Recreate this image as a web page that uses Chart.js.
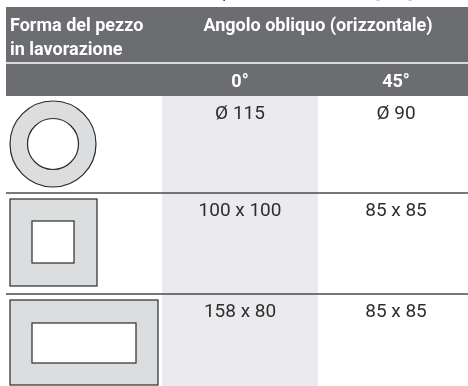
<!DOCTYPE html>
<html>
<head>
<meta charset="utf-8">
<script src="https://cdn.jsdelivr.net/npm/chart.js@4/dist/chart.umd.min.js"></script>
<style>
  html, body { margin: 0; padding: 0; background: #fff; }
</style>
</head>
<body>
<canvas id="table" width="468" height="386"></canvas>
<script>
// table content
const caption = "Dimensioni massime del pezzo in lavorazione [mm]";
const headShape = ["Forma del pezzo", "in lavorazione"];
const headAngle = "Angolo obliquo (orizzontale)";
const angles = ["0°", "45°"];
const shapes = ["circle", "square", "rect"];
const size0 = ["Ø 115", "100 x 100", "158 x 80"];
const size45 = ["Ø 90", "85 x 85", "85 x 85"];

const DARK = "#6c6d71";
const SHADE = "#ebebed";
const FILL = "#dcdddf";
const LINE = "#4b4b4d";
const TEXT = "#2e2e30";
const headFont = "bold 18px 'Roboto', sans-serif";
const cellFont = "19px 'Roboto', sans-serif";

// table layout in scale units
const colEdges = [6, 162, 318, 468];
const rowEdges = [96, 193, 294, 386];

const tablePlugin = {
  id: "tablePlugin",
  afterDraw(chart) {
    const ctx = chart.ctx;
    const X = v => chart.scales.x.getPixelForValue(v);
    const Y = v => chart.scales.y.getPixelForValue(v);
    const rect = (x0, y0, x1, y1) => [X(x0), Y(y0), X(x1) - X(x0), Y(y1) - Y(y0)];
    ctx.save();

    // caption, mostly cut off at the top
    ctx.fillStyle = TEXT;
    ctx.font = "16.5px 'Roboto', sans-serif";
    ctx.textAlign = "left";
    ctx.textBaseline = "alphabetic";
    ctx.fillText(caption, X(38), Y(-2));

    // header band
    ctx.fillStyle = DARK;
    ctx.fillRect(...rect(colEdges[0], 7, colEdges[3], rowEdges[0]));
    ctx.strokeStyle = "#ffffff";
    ctx.lineWidth = 1.5;
    ctx.beginPath();
    ctx.moveTo(X(colEdges[0]), Y(63));
    ctx.lineTo(X(colEdges[3]), Y(63));
    ctx.stroke();

    ctx.fillStyle = "#ffffff";
    ctx.font = headFont;
    ctx.textAlign = "left";
    ctx.fillText(headShape[0], X(10), Y(31));
    ctx.fillText(headShape[1], X(10), Y(55));
    ctx.textAlign = "center";
    ctx.fillText(headAngle, X((colEdges[1] + colEdges[3]) / 2 + 3), Y(31));
    angles.forEach((a, i) => {
      ctx.fillText(a, X((colEdges[i + 1] + colEdges[i + 2]) / 2 + i * 3), Y(87));
    });

    // shaded 0° column
    ctx.fillStyle = SHADE;
    ctx.fillRect(...rect(colEdges[1], rowEdges[0], colEdges[2], rowEdges[3]));

    // row separators
    ctx.strokeStyle = LINE;
    ctx.lineWidth = 1.6;
    rowEdges.slice(1, -1).forEach(r => {
      ctx.beginPath();
      ctx.moveTo(X(colEdges[0]), Y(r));
      ctx.lineTo(X(colEdges[3]), Y(r));
      ctx.stroke();
    });

    // cell values
    ctx.fillStyle = TEXT;
    ctx.font = cellFont;
    ctx.textAlign = "center";
    shapes.forEach((s, i) => {
      const base = rowEdges[i] + 23;
      ctx.fillText(size0[i], X((colEdges[1] + colEdges[2]) / 2), Y(base));
      ctx.fillText(size45[i], X((colEdges[2] + colEdges[3]) / 2 + 3), Y(base));
    });

    // workpiece shapes
    ctx.strokeStyle = "#2a2a2a";
    ctx.lineWidth = 1.2;
    shapes.forEach((s, i) => {
      const top = rowEdges[i];
      if (s === "circle") {
        const cx = X(53), cy = Y(top + 48);
        ctx.beginPath();
        ctx.arc(cx, cy, 43, 0, Math.PI * 2);
        ctx.fillStyle = FILL;
        ctx.fill();
        ctx.stroke();
        ctx.beginPath();
        ctx.arc(cx, cy, 25.5, 0, Math.PI * 2);
        ctx.fillStyle = "#ffffff";
        ctx.fill();
        ctx.stroke();
      } else {
        const outerW = s === "square" ? 87 : 148;
        const innerW = s === "square" ? 42 : 104;
        const oy = top + 6, oh = s === "square" ? 87 : 85;
        ctx.fillStyle = FILL;
        ctx.fillRect(...rect(10, oy, 10 + outerW, oy + oh));
        ctx.strokeRect(...rect(10, oy, 10 + outerW, oy + oh));
        const iy = s === "square" ? oy + 22 : oy + 23;
        const ih = s === "square" ? 42 : 40;
        ctx.fillStyle = "#ffffff";
        ctx.fillRect(...rect(32, iy, 32 + innerW, iy + ih));
        ctx.strokeRect(...rect(32, iy, 32 + innerW, iy + ih));
      }
    });

    ctx.restore();
  }
};

new Chart(document.getElementById("table"), {
  type: "scatter",
  data: { datasets: [{ data: [] }] },
  options: {
    responsive: false,
    animation: false,
    events: [],
    layout: { padding: 0 },
    scales: {
      x: { type: "linear", min: 0, max: 468, display: false },
      y: { type: "linear", min: 0, max: 386, reverse: true, display: false }
    },
    plugins: {
      legend: { display: false },
      tooltip: { enabled: false }
    }
  },
  plugins: [tablePlugin]
});
</script>
</body>
</html>
